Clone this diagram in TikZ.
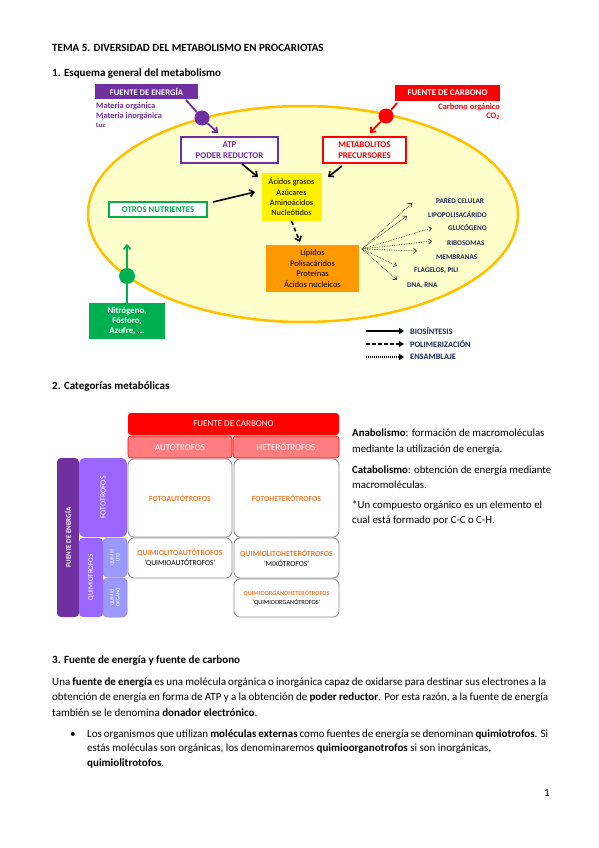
\documentclass[tikz,border=0pt]{standalone}
\usepackage{fontspec}
\setmainfont{Carlito}
\usetikzlibrary{arrows.meta}
\definecolor{purp}{HTML}{7030A0}
\definecolor{grn}{HTML}{00B050}
\definecolor{orgline}{HTML}{FFC000}
\definecolor{ellfill}{HTML}{FFFFCC}
\definecolor{orbox}{HTML}{FF9900}
\definecolor{navy}{HTML}{1F2A5A}
\definecolor{pinkc}{HTML}{FF7C80}
\definecolor{lpurp}{HTML}{9966FF}
\definecolor{lav}{HTML}{9999FF}
\definecolor{celltxt}{HTML}{ED7D31}
\definecolor{cellline}{HTML}{8C8C8C}
\newcommand\fsz[2]{\fontsize{#1}{#2}\selectfont}
\begin{document}
\begin{tikzpicture}[x=1pt,y=-1pt,
  txt/.style={inner sep=0pt, anchor=west},
  body/.style={txt, font=\fsz{11}{13}},
  head/.style={txt, font=\fsz{11}{13}\bfseries},
  solidbox/.style={inner sep=0pt, align=center},
  barb/.style={-{Straight Barb[length=4pt,width=7pt]}},
  fanarr/.style={densely dotted, line width=0.7pt, draw=black!80, -{Straight Barb[length=3pt,width=5pt]}},
  fanlbl/.style={txt, font=\fsz{7.2}{8}\bfseries, text=navy},
  leglbl/.style={txt, font=\fsz{8.3}{9}\bfseries, text=navy},
  cell/.style={draw=cellline, line width=0.8pt, fill=white, rounded corners=6pt, inner sep=0pt, align=center},
  side/.style={inner sep=0pt, rounded corners=4pt, align=center, text=white}
]
\useasboundingbox[fill=white] (0,0) rectangle (599,848);

% ---------- headings ----------
\node[head] (t0) at (52,48) {TEMA 5. DIVERSIDAD DEL METABOLISMO EN PROCARIOTAS};
\node[head] (t1) at (52,74) {1. Esquema general del metabolismo};

% ---------- cell ellipse ----------
\draw[orgline, line width=2.5pt, fill=ellfill] (303,214) ellipse [x radius=215, y radius=108];

% energy source
\node[solidbox, fill=purp, minimum width=103, minimum height=15, text=white, font=\fsz{8.6}{9}\bfseries] (fe) at (146.5,92) {FUENTE DE ENERGÍA};
\node[txt, anchor=north west, align=left, text=purp, font=\fsz{8.4}{9.5}\bfseries] (fel) at (96,102.5) {Materia orgánica\\Materia inorgánica\\{\fsz{6.5}{9.5}Luz}};
\node[circle, fill=purp, minimum size=15, inner sep=0pt] (ce) at (202,118) {};
\coordinate (fe1) at (186,100);
\coordinate (ae) at (218,133);
\draw[purp, line width=1.8pt] (fe1) -- (ce);
\draw[purp, line width=1.8pt, barb] (ce) -- (ae);

% carbon source
\node[solidbox, fill=red, minimum width=105, minimum height=16, text=white, font=\fsz{8.8}{9}\bfseries] (fc) at (447.5,93) {FUENTE DE CARBONO};
\node[txt, anchor=north east, align=right, text=red, font=\fsz{8.4}{9.8}\bfseries] (fcl) at (500,103) {Carbono orgánico\\CO\textsubscript{2}};
\node[circle, fill=red, minimum size=15, inner sep=0pt] (cc) at (386,116) {};
\coordinate (fc1) at (397,103);
\coordinate (ac) at (370,133);
\draw[red, line width=1.8pt] (fc1) -- (cc);
\draw[red, line width=1.8pt, barb] (cc) -- (ac);

% ATP / metabolitos
\node[solidbox, draw=purp, line width=1.3pt, fill=white, minimum width=97, minimum height=26, text=purp, font=\fsz{8.8}{11}\bfseries] (atp) at (229.5,150) {ATP\\PODER REDUCTOR};
\node[solidbox, draw=red, line width=1.3pt, fill=white, minimum width=83, minimum height=26, text=red, font=\fsz{8.8}{11}\bfseries] (met) at (364.5,150) {METABOLITOS\\PRECURSORES};

% yellow box
\node[solidbox, fill=yellow, minimum width=60, minimum height=48, font=\fsz{8.3}{10.3}] (yel) at (291.5,197) {Ácidos grasos\\Azúcares\\Aminoácidos\\Nucleótidos};

% otros nutrientes
\node[solidbox, draw=grn, line width=1.3pt, fill=white, minimum width=98, minimum height=15, text=grn, font=\fsz{8.7}{9}\bfseries] (otr) at (158,209.5) {OTROS NUTRIENTES};

% arrows to yellow box
\coordinate (a1s) at (242,164);
\coordinate (a1e) at (258,177);
\coordinate (a2s) at (342,166);
\coordinate (a2e) at (328,177);
\coordinate (a3s) at (213,202);
\coordinate (a3e) at (255,192);
\draw[black, line width=1.6pt, barb] (a1s) -- (a1e);
\draw[black, line width=1.6pt, barb] (a2s) -- (a2e);
\draw[black, line width=1.6pt, barb] (a3s) -- (a3e);

% orange box
\node[solidbox, fill=orbox, minimum width=93, minimum height=47, font=\fsz{8.5}{10.4}] (orb) at (312.5,268.5) {Lípidos\\Polisacáridos\\Proteínas\\Ácidos nucleicos};
\coordinate (dse) at (300,242);
\draw[black, line width=1.6pt, dash pattern=on 4pt off 3pt, barb] (yel.south) -- (dse);

% green nutrients
\node[circle, fill=grn, minimum size=16, inner sep=0pt] (cg) at (127,276) {};
\node[solidbox, fill=grn, minimum width=76, minimum height=36, text=white, font=\fsz{8.8}{9.6}\bfseries] (gbox) at (127,321) {Nitrógeno,\\Fósforo,\\Azufre, ...};
\coordinate (ga) at (127,244);
\draw[grn, line width=1.8pt] (gbox.north) -- (cg);
\draw[grn, line width=1.8pt, barb] (cg) -- (ga);

% fan of assembly arrows
\coordinate (fan) at (362,249);
\coordinate (f1) at (412,203);
\coordinate (f2) at (407,216);
\coordinate (f3) at (432,228);
\coordinate (f4) at (432,241);
\coordinate (f5) at (417,251);
\coordinate (f6) at (397,266);
\coordinate (f7) at (397,280);
\foreach \t in {f1,f2,f3,f4,f5,f6,f7} \draw[fanarr] (fan) -- (\t);
\node[fanlbl] (l1) at (436,201) {PARED CELULAR};
\node[fanlbl] (l2) at (428,214) {LIPOPOLISACÁRIDO};
\node[fanlbl] (l3) at (448,228) {GLUCÓGENO};
\node[fanlbl] (l4) at (447,243) {RIBOSOMAS};
\node[fanlbl] (l5) at (436,257) {MEMBRANAS};
\node[fanlbl] (l6) at (414,271) {FLAGELOS, PILI};
\node[fanlbl] (l7) at (407,286) {DNA, RNA};

% legend
\coordinate (g1s) at (366,331); \coordinate (g1e) at (404,331);
\coordinate (g2s) at (366,344); \coordinate (g2e) at (404,344);
\coordinate (g3s) at (366,357); \coordinate (g3e) at (404,357);
\draw[line width=1.4pt, -{Triangle[length=5pt,width=6pt]}] (g1s) -- (g1e);
\draw[line width=1.4pt, dash pattern=on 4pt off 2pt, -{Triangle[length=5pt,width=6pt]}] (g2s) -- (g2e);
\draw[line width=1.2pt, dash pattern=on 1pt off 1pt, -{Triangle[length=5pt,width=6pt]}] (g3s) -- (g3e);
\node[leglbl] (lg1) at (410,331) {BIOSÍNTESIS};
\node[leglbl] (lg2) at (410,344) {POLIMERIZACIÓN};
\node[leglbl] (lg3) at (410,357) {ENSAMBLAJE};

% ---------- section 2 ----------
\node[head] (t2) at (52,387) {2. Categorías metabólicas};

\node[solidbox, fill=red, rounded corners=3pt, minimum width=211, minimum height=22, text=white, font=\fsz{9}{10}] (carb) at (233.5,424) {FUENTE DE CARBONO};
\node[solidbox, fill=pinkc, draw=red, line width=0.6pt, rounded corners=3pt, minimum width=104, minimum height=22, text=white, font=\fsz{9}{10}] (aut) at (180,447) {AUTÓTROFOS};
\node[solidbox, fill=pinkc, draw=red, line width=0.6pt, rounded corners=3pt, minimum width=106, minimum height=22, text=white, font=\fsz{9}{10}] (het) at (286,447) {HETERÓTROFOS};

\node[side, fill=purp, minimum width=22, minimum height=159] (fen) at (68,537.5) {};
\node[rotate=90, text=white, font=\fsz{7}{8}\bfseries, inner sep=0pt] (fent) at (fen.center) {FUENTE DE ENERGÍA};
\node[side, fill=lpurp, minimum width=48, minimum height=79, rounded corners=6pt] (fot) at (103,497.5) {};
\node[rotate=90, text=white, font=\fsz{7.8}{8}, inner sep=0pt] (fott) at (fot.center) {FOTOTROFOS};
\node[side, fill=lpurp, minimum width=24, minimum height=79] (qui) at (91,577.5) {};
\node[rotate=90, text=white, font=\fsz{7}{8}, inner sep=0pt] (quit) at (qui.center) {QUIMIOTROFOS};
\node[side, fill=lav, draw=purp!60, line width=0.5pt, minimum width=24, minimum height=39] (qli) at (115,557.5) {};
\node[rotate=90, text=white, font=\fsz{5}{6}, inner sep=0pt, align=center] (qlit) at (qli.center) {QUIMIO\\LITO};
\node[side, fill=lav, draw=purp!60, line width=0.5pt, minimum width=24, minimum height=39] (qor) at (115,597.5) {};
\node[rotate=90, text=white, font=\fsz{5}{6}, inner sep=0pt, align=center] (qort) at (qor.center) {QUIMIO\\ORGANO};

\node[cell, minimum width=104, minimum height=78] (c11) at (180,498) {\textcolor{celltxt}{\fsz{7.8}{9}\bfseries FOTOAUTÓTROFOS}};
\node[cell, minimum width=105, minimum height=78] (c12) at (286.5,498) {\textcolor{celltxt}{\fsz{7.8}{9}\bfseries FOTOHETERÓTROFOS}};
\node[cell, minimum width=104, minimum height=40, font=\fsz{7.6}{10}] (c21) at (180,558) {\textcolor{celltxt}{\fsz{7.8}{10}\bfseries QUIMIOLITOAUTÓTROFOS}\\'QUIMIOAUTÓTROFOS'};
\node[cell, minimum width=105, minimum height=40, font=\fsz{7.6}{10}] (c22) at (286.5,558) {\textcolor{celltxt}{\fsz{7.8}{10}\bfseries QUIMIOLITOHETERÓTROFOS}\\'MIXÓTROFOS'};
\node[cell, minimum width=105, minimum height=38, font=\fsz{6.3}{8.5}] (c32) at (286.5,598) {\textcolor{celltxt}{\fsz{6.2}{8.5}\bfseries QUIMIOORGANOHETERÓTROFOS}\\'QUIMIOORGANÓTROFOS'};

\node[txt, anchor=north west, align=left, font=\fsz{10.8}{16}] (ana) at (352,429) {\textbf{Anabolismo}: formación de macromoléculas\\mediante la utilización de energía.};
\node[txt, anchor=north west, align=left, font=\fsz{10.8}{15}] (cata) at (352,466) {\textbf{Catabolismo}: obtención de energía mediante\\macromoléculas.};
\node[txt, anchor=north west, align=left, font=\fsz{10.8}{15}] (comp) at (352,501) {*Un compuesto orgánico es un elemento el\\cual está formado por C-C o C-H.};

% ---------- section 3 ----------
\node[head] (t3) at (52,661) {3. Fuente de energía y fuente de carbono};
\node[body] (p1) at (52,683) {\makebox[494pt][s]{Una \textbf{fuente de energía} es una molécula orgánica o inorgánica capaz de oxidarse para destinar sus electrones a la}};
\node[body] (p2) at (52,698) {\makebox[496pt][s]{obtención de energía en forma de ATP y a la obtención de \textbf{poder reductor}. Por esta razón, a la fuente de energía}};
\node[body] (p3) at (52,713) {también se le denomina \textbf{donador electrónico}.};
\node[body] (bul) at (70,735) {•};
\node[body] (b1) at (87,735) {\makebox[461pt][s]{Los organismos que utilizan \textbf{moléculas externas} como fuentes de energía se denominan \textbf{quimiotrofos}. Si}};
\node[body] (b2) at (87,749) {estás moléculas son orgánicas, los denominaremos \textbf{quimioorganotrofos} si son inorgánicas,};
\node[body] (b3) at (87,763) {\textbf{quimiolitrotofos}.};
\node[body] (pg) at (544,793) {1};
\end{tikzpicture}
\end{document}
